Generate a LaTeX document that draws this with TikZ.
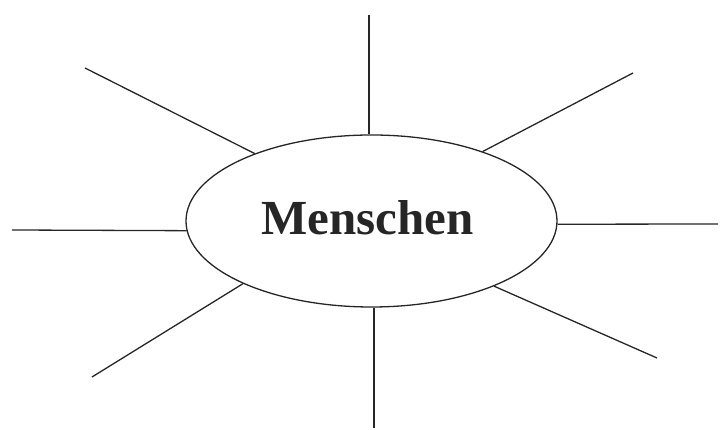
\documentclass[tikz,border=0pt]{standalone}
\usepackage{fontspec}
\setmainfont{Liberation Serif}
\usetikzlibrary{shapes.geometric}
\begin{document}
\begin{tikzpicture}[x=1pt,y=1pt,
  ray/.style={line width=1.3pt, black!85},
  bubble/.style={ellipse, draw, line width=1.3pt, black!85, minimum width=371pt, minimum height=172pt, inner sep=0pt,
    font=\fontsize{49}{49}\selectfont\bfseries}]
\useasboundingbox (0,0) rectangle (720,430);
\node[bubble] (c) at (371.5,209) {\raisebox{6pt}{\hspace*{-8pt}Menschen}};
\coordinate (t) at (369,415);
\coordinate (b) at (374,2);
\coordinate (l) at (12,200);
\coordinate (r) at (718,206);
\coordinate (ul) at (85,362);
\coordinate (ur) at (633,357);
\coordinate (ll) at (92,53);
\coordinate (lr) at (657,72);
\draw[ray] (t) -- (t |- c.north);
\draw[ray] (b) -- (b |- c.south);
\draw[ray] (l) -- (c.183);
\draw[ray] (r) -- (c.-1);
\draw[ray] (ul) -- (c.150);
\draw[ray] (ur) -- (c.32);
\draw[ray] (ll) -- (c.206.6);
\draw[ray] (lr) -- (c.332.5);
\end{tikzpicture}
\end{document}
